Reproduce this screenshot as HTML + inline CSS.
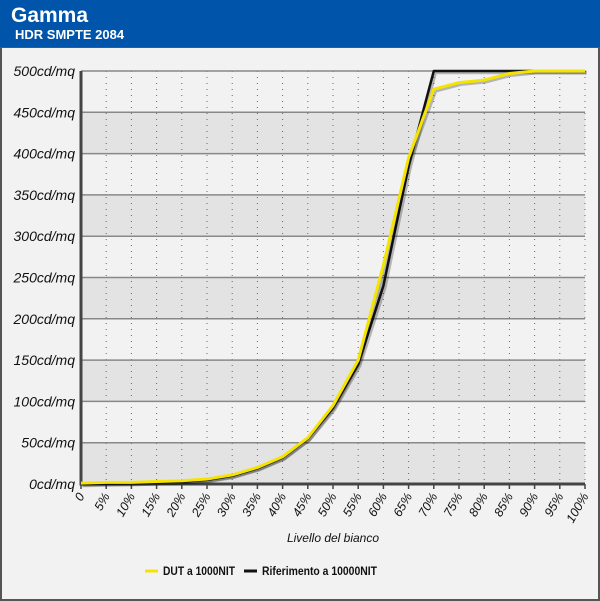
<!DOCTYPE html>
<html><head><meta charset="utf-8"><style>
body{margin:0;width:600px;height:600px;overflow:hidden;background:#f2f2f2;font-family:"Liberation Sans",sans-serif}
#hdr{position:absolute;left:0;top:0;width:600px;height:47px;background:#0055aa;color:#fff}
#frame{position:absolute;left:0;top:47px;width:596px;height:551px;border:2px solid #555;border-top:1px solid #555;background:#f2f2f2}
</style></head><body>
<div id="hdr">
<div style="position:absolute;left:11px;top:4px;font-size:21px;font-weight:bold">Gamma</div>
<div style="position:absolute;left:15px;top:27px;font-size:13px;font-weight:bold">HDR SMPTE 2084</div>
</div>
<div id="frame"></div>
<svg id="chart" width="600" height="600" style="position:absolute;left:0;top:0"></svg>
<script>
const categories=[0,5,10,15,20,25,30,35,40,45,50,55,60,65,70,75,80,85,90,95,100];
const dutValues=[1,2,2,3,4,6,11,20,33,56,95,150,265,395,478,486,489,497,500,500,500];
const refValues=[0,0.5,1,2,3,5,10,19,32,55,92,145,240,385,500,500,500,500,500,500,500];
const yTicks=[0,50,100,150,200,250,300,350,400,450,500];
const xTickLabels=["0","5%","10%","15%","20%","25%","30%","35%","40%","45%","50%","55%","60%","65%","70%","75%","80%","85%","90%","95%","100%"];
const svg=document.getElementById('chart');const NS="http://www.w3.org/2000/svg";
const X0=81,X1=585,Y0=484,Y1=71;
const xs=v=>X0+(v/100)*(X1-X0);const ys=v=>Y0-(v/500)*(Y0-Y1);
function mk(t,a,p){const e=document.createElementNS(NS,t);for(const k in a)e.setAttribute(k,a[k]);(p||svg).appendChild(e);return e;}
for(let i=0;i<yTicks.length-1;i++){
 const r=mk('rect',{x:X0,y:ys(yTicks[i+1]),width:X1-X0,height:ys(yTicks[i])-ys(yTicks[i+1]),fill:i%2==0?'#e3e3e3':'#f2f2f2'});
 
 
}
categories.forEach((c,i)=>{if(i==0)return;
 const l=mk('line',{x1:xs(c),x2:xs(c),y1:Y1,y2:Y0,stroke:'#666','stroke-dasharray':'1,5','stroke-width':1});
 
 
});
yTicks.forEach(t=>{
 const l=mk('line',{x1:X0,x2:X1,y1:ys(t),y2:ys(t),stroke:'#888','stroke-width':1.5});
 
 
 const tx=mk('text',{x:75,y:ys(t)+5,'text-anchor':'end','font-size':14,'font-style':'italic',fill:'#111'});
 tx.textContent=t+'cd/mq';
 
 
});
const ax=mk('path',{d:`M${X0},${Y1} V${Y0} H${X1}`,stroke:'#444','stroke-width':3,fill:'none'});


categories.forEach((c,i)=>{
 const tk=mk('line',{x1:xs(c),x2:xs(c),y1:Y0,y2:Y0+5,stroke:'#444','stroke-width':1.5});
 
 
 const tx=mk('text',{x:0,y:0,'text-anchor':'end','font-size':12.5,'font-style':'italic',fill:'#111',transform:`translate(${xs(c)+4},${Y0+12}) rotate(-60)`});
 tx.textContent=xTickLabels[i];
 
 
});
function line(vals,col,w,name){
 const d=vals.map((v,i)=>(i?'L':'M')+xs(categories[i])+','+ys(v)).join(' ');
 const sh=mk('path',{d,stroke:'rgba(0,0,0,0.25)','stroke-width':w+1,fill:'none',transform:'translate(1.5,1.5)'});
 
 
 const p=mk('path',{d,stroke:col,'stroke-width':w,fill:'none','stroke-linejoin':'round'});
 
 
}
line(refValues,'#111',2.5,'reference-line');
line(dutValues,'#f5e400',3,'dut-line');
const xt=mk('text',{x:333,y:542,'text-anchor':'middle','font-size':12,'font-style':'italic',fill:'#111'});
xt.textContent='Livello del bianco';


const g1=mk('g',{});
mk('line',{x1:145,x2:158,y1:571,y2:571,stroke:'#f5e400','stroke-width':3},g1);
const t1=mk('text',{x:163,y:575,'font-size':12,'font-weight':'bold',fill:'#111',textLength:72,lengthAdjust:'spacingAndGlyphs'},g1);t1.textContent='DUT a 1000NIT';
const g2=mk('g',{});
mk('line',{x1:244,x2:257,y1:571,y2:571,stroke:'#111','stroke-width':3},g2);
const t2=mk('text',{x:262,y:575,'font-size':12,'font-weight':'bold',fill:'#111',textLength:115,lengthAdjust:'spacingAndGlyphs'},g2);t2.textContent='Riferimento a 10000NIT';
</script>
</body></html>
